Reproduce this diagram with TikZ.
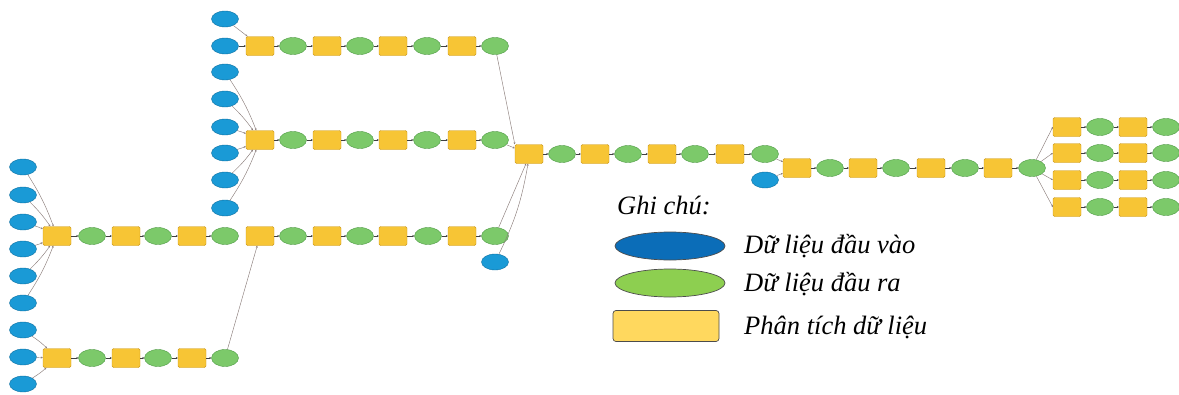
\documentclass[tikz,border=0pt]{standalone}
\usepackage{fontspec}
\setmainfont{Liberation Serif}
\usetikzlibrary{shapes.geometric,arrows.meta}
\definecolor{nblue}{HTML}{1A9AD6}
\definecolor{nblueD}{HTML}{0E6FA0}
\definecolor{ngreen}{HTML}{7CC96A}
\definecolor{ngreenD}{HTML}{4E9A45}
\definecolor{nyel}{HTML}{F7C535}
\definecolor{nyelD}{HTML}{C9961A}
\definecolor{lblue}{HTML}{0B6DB8}
\definecolor{lgreen}{HTML}{8DCF50}
\definecolor{lyel}{HTML}{FFD85E}
\definecolor{connc}{HTML}{8A7C7A}
\tikzset{
  inb/.style={ellipse, fill=nblue, draw=nblueD, line width=0.4pt, minimum width=27pt, minimum height=16pt, inner sep=0pt},
  outg/.style={ellipse, fill=ngreen, draw=ngreenD, line width=0.4pt, minimum width=27pt, minimum height=17pt, inner sep=0pt},
  proc/.style={rectangle, rounded corners=1.5pt, fill=nyel, draw=nyelD, line width=0.4pt, minimum width=28pt, minimum height=19pt, inner sep=0pt},
  arr/.style={draw=black!75, line width=0.5pt, -{Stealth[length=2pt,width=2pt]}},
  conn/.style={draw=connc, line width=0.45pt, -{Stealth[length=2pt,width=2pt]}},
  lgtext/.style={anchor=west, font=\fontsize{26.5}{28}\selectfont\itshape, inner sep=0pt}
}
\begin{document}
\begin{tikzpicture}[x=1pt,y=-1pt]
\useasboundingbox (0,0) rectangle (1179,394);
% left inputs
\foreach \i/\y in {1/167,2/195,3/222,4/249,5/276,6/303,7/330,8/357,9/384}{
  \node[inb] (L\i) at (23,\y) {};
}
% row A
\node[proc] (au) at (57,236) {};
\node[outg] (ag1) at (92,236) {};
\node[proc] (ab1) at (126,236) {};
\node[outg] (ag2) at (158,236) {};
\node[proc] (ab2) at (192,236) {};
\node[outg] (ag3) at (225,236) {};
\node[proc] (ab3) at (260,236) {};
\node[outg] (ag4) at (293,236) {};
\node[proc] (ab4) at (327,236) {};
\node[outg] (ag5) at (360,236) {};
\node[proc] (ab5) at (393,236) {};
\node[outg] (ag6) at (428,236) {};
\node[proc] (ab6) at (462,236) {};
\node[outg] (ag7) at (495,236) {};
\node[inb] (X1) at (495,262) {};
\foreach \a/\b in {au/ag1,ag1/ab1,ab1/ag2,ag2/ab2,ab2/ag3,ab3/ag4,ag4/ab4,ab4/ag5,ag5/ab5,ab5/ag6,ag6/ab6,ab6/ag7}{
  \draw[arr] (\a) -- (\b);
}
% row B
\node[proc] (bu) at (57,358) {};
\node[outg] (bg1) at (92,358) {};
\node[proc] (bb1) at (126,358) {};
\node[outg] (bg2) at (158,358) {};
\node[proc] (bb2) at (192,358) {};
\node[outg] (bg3) at (225,358) {};
\foreach \a/\b in {bu/bg1,bg1/bb1,bb1/bg2,bg2/bb2,bb2/bg3}{
  \draw[arr] (\a) -- (\b);
}
\draw[conn] (bg3) -- (ab3);
% left input connectors
\draw[conn] (L1) to[bend left=6] (au);
\draw[conn] (L2) to[bend left=5] (au);
\draw[conn] (L3) to[bend left=4] (au);
\draw[conn] (L4) to[bend right=4] (au);
\draw[conn] (L5) to[bend right=5] (au);
\draw[conn] (L6) to[bend right=6] (au);
\draw[conn] (L7) to[bend left=5] (bu);
\draw[conn] (L8) -- (bu);
\draw[conn] (L9) to[bend right=5] (bu);
% top row T
\node[inb] (T0) at (225,19) {};
\node[inb] (T1) at (225,46) {};
\node[proc] (tb1) at (260,46) {};
\node[outg] (tg1) at (293,46) {};
\node[proc] (tb2) at (327,46) {};
\node[outg] (tg2) at (360,46) {};
\node[proc] (tb3) at (393,46) {};
\node[outg] (tg3) at (427,46) {};
\node[proc] (tb4) at (462,46) {};
\node[outg] (tg4) at (495,46) {};
\draw[conn] (T0) -- (tb1);
\draw[arr] (T1) -- (tb1);
\foreach \a/\b in {tb1/tg1,tg1/tb2,tb2/tg2,tg2/tb3,tb3/tg3,tg3/tb4,tb4/tg4}{
  \draw[arr] (\a) -- (\b);
}
% row M
\foreach \i/\y in {1/72,2/99,3/127,4/153,5/180,6/208}{
  \node[inb] (M\i) at (225,\y) {};
}
\node[proc] (mb1) at (260,140) {};
\node[outg] (mg1) at (293,140) {};
\node[proc] (mb2) at (327,140) {};
\node[outg] (mg2) at (360,140) {};
\node[proc] (mb3) at (393,140) {};
\node[outg] (mg3) at (427,140) {};
\node[proc] (mb4) at (462,140) {};
\node[outg] (mg4) at (495,140) {};
\foreach \a/\b in {mb1/mg1,mg1/mb2,mb2/mg2,mg2/mb3,mb3/mg3,mg3/mb4,mb4/mg4}{
  \draw[arr] (\a) -- (\b);
}
\draw[conn] (M1) to[bend left=6] (mb1);
\draw[conn] (M2) to[bend left=5] (mb1);
\draw[conn] (M3) to[bend left=4] (mb1);
\draw[conn] (M4) to[bend right=4] (mb1);
\draw[conn] (M5) to[bend right=5] (mb1);
\draw[conn] (M6) to[bend right=6] (mb1);
% union 4 and row C
\node[proc] (u4) at (529,154) {};
\draw[conn] (tg4) -- (u4.north west);
\draw[conn] (mg4) -- (u4);
\draw[conn] (ag7) -- ([xshift=-3pt]u4.south);
\draw[conn] (X1) to[bend right=8] ([xshift=-1pt]u4.south);
\node[outg] (cg1) at (562,154) {};
\node[proc] (cb1) at (595,154) {};
\node[outg] (cg2) at (628,154) {};
\node[proc] (cb2) at (662,154) {};
\node[outg] (cg3) at (695,154) {};
\node[proc] (cb3) at (730,154) {};
\node[outg] (cg4) at (765,154) {};
\node[inb] (X2) at (765,180) {};
\foreach \a/\b in {u4/cg1,cg1/cb1,cb1/cg2,cg2/cb2,cb2/cg3,cg3/cb3,cb3/cg4}{
  \draw[arr] (\a) -- (\b);
}
% union 5 and row D
\node[proc] (u5) at (797,168) {};
\draw[conn] (cg4) -- (u5);
\draw[conn] (X2) -- (u5);
\node[outg] (dg1) at (830,168) {};
\node[proc] (db1) at (863,168) {};
\node[outg] (dg2) at (896,168) {};
\node[proc] (db2) at (931,168) {};
\node[outg] (dg3) at (965,168) {};
\node[proc] (db3) at (998,168) {};
\node[outg] (dg4) at (1032,168) {};
\foreach \a/\b in {u5/dg1,dg1/db1,db1/dg2,dg2/db2,db2/dg3,dg3/db3,db3/dg4}{
  \draw[arr] (\a) -- (\b);
}
% right fan
\foreach \k/\y in {1/127,2/153,3/180,4/207}{
  \node[proc] (e\k) at (1067,\y) {};
  \node[outg] (eg\k) at (1100,\y) {};
  \node[proc] (eb\k) at (1133,\y) {};
  \node[outg] (eh\k) at (1166,\y) {};
  \draw[conn] (dg4) -- (e\k.west);
  \draw[arr] (e\k) -- (eg\k);
  \draw[arr] (eg\k) -- (eb\k);
  \draw[arr] (eb\k) -- (eh\k);
}
% legend
\node[lgtext] (gc) at (617,205) {Ghi chú:};
\node[ellipse, fill=lblue, draw=black!70, line width=0.7pt, minimum width=110pt, minimum height=28pt, inner sep=0pt] (lg1) at (670,246) {};
\node[ellipse, fill=lgreen, draw=black!70, line width=0.7pt, minimum width=110pt, minimum height=28pt, inner sep=0pt] (lg2) at (670,283) {};
\node[rectangle, rounded corners=3pt, fill=lyel, draw=black!70, line width=0.7pt, minimum width=106pt, minimum height=31pt, inner sep=0pt] (lg3) at (666,326) {};
\node[lgtext] (t1) at (744,246) {Dữ liệu đầu vào};
\node[lgtext] (t2) at (744,284) {Dữ liệu đầu ra};
\node[lgtext] (t3) at (744,327) {Phân tích dữ liệu};
\end{tikzpicture}
\end{document}
